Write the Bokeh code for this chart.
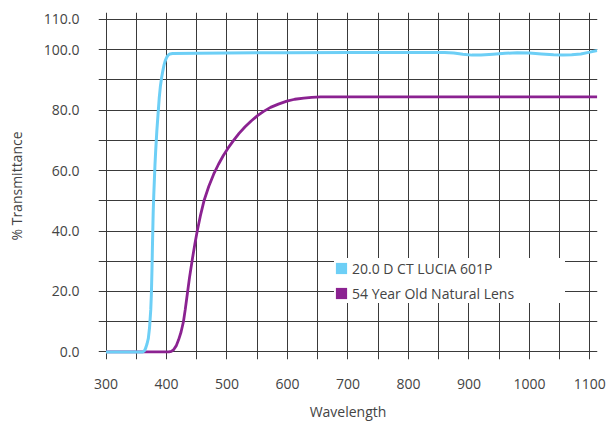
from bokeh.plotting import figure
from bokeh.models import Range1d, FixedTicker, PrintfTickFormatter, Legend, LegendItem
from bokeh.embed import file_html
from bokeh.resources import INLINE

# ---- data ----
x_ticks = [300, 400, 500, 600, 700, 800, 900, 1000, 1100]
x_grid = [300, 350, 400, 450, 500, 550, 600, 650, 700, 750, 800, 850, 900, 950, 1000, 1050, 1100]
y_ticks = [0, 20, 40, 60, 80, 100, 110]
y_grid = [0, 10, 20, 30, 40, 50, 60, 70, 80, 90, 100, 110]

lucia_name = "20.0 D CT LUCIA 601P"
lucia_wl = [300, 355, 361, 364, 366, 368, 370, 372, 374, 375, 376, 377, 378, 379, 380,
            381, 382, 384, 386, 388, 390, 392, 394, 396, 398, 400, 402, 404, 406, 410,
            450, 500, 600, 700, 800, 860, 875, 890, 905, 920, 940, 960, 980, 1000,
            1020, 1040, 1055, 1070, 1085, 1100, 1112]
lucia_t = [0, 0, 0, 0.5, 1.5, 2.8, 4.5, 8, 14, 19, 27, 37, 46, 52, 57,
           62, 66, 73, 78.5, 84, 88, 90.8, 93, 95, 96.4, 97.3, 98.0, 98.4, 98.6, 98.7,
           98.8, 98.9, 99.0, 99.1, 99.1, 99.1, 98.9, 98.5, 98.2, 98.2, 98.5, 98.8, 99.0, 98.9,
           98.6, 98.3, 98.2, 98.3, 98.6, 99.2, 99.7]

lens_name = "54 Year Old Natural Lens"
lens_wl = [300, 404, 408, 412, 416, 420, 424, 428, 431, 434, 438, 443, 447, 451, 456,
           462, 470, 478, 486, 494, 502, 511, 520, 530, 540, 550, 560, 572, 585, 599,
           612, 627, 640, 655, 1112]
lens_t = [0, 0, 0.2, 0.8, 2, 4, 6.5, 10, 14, 18.5, 24.5, 31, 35.8, 40.2, 45,
          50, 54.8, 58.8, 62.1, 65.0, 67.5, 70.0, 72.3, 74.5, 76.4, 78.1, 79.5, 80.9, 82.0, 83.0,
          83.6, 84.0, 84.25, 84.4, 84.4]

blue = "#6DCFF6"
purple = "#8B2291"
text_col = "#444444"
font = "Open Sans"
nan = float("nan")

p = figure(width=609, height=423, output_backend="svg", toolbar_location=None,
           x_range=Range1d(287.6, 1112.6), y_range=Range1d(-2.5, 112.3),
           min_border_left=98, min_border_right=12, min_border_top=12, min_border_bottom=63)
p.outline_line_color = None
p.background_fill_color = "white"
p.border_fill_color = "white"

p.xaxis.ticker = FixedTicker(ticks=x_ticks)
p.yaxis.ticker = FixedTicker(ticks=y_ticks)
p.xgrid.ticker = FixedTicker(ticks=x_grid)
p.ygrid.ticker = FixedTicker(ticks=y_grid)
p.yaxis.formatter = PrintfTickFormatter(format="%.1f")

for g in (p.xgrid, p.ygrid):
    g.grid_line_color = "#3a3a3a"
    g.grid_line_width = 1
    g.grid_line_alpha = 1

for ax in (p.xaxis, p.yaxis):
    ax.axis_line_color = None
    ax.major_tick_line_color = None
    ax.minor_tick_line_color = None
    ax.major_label_text_font = font
    ax.major_label_text_font_size = "14px"
    ax.major_label_text_color = text_col
    ax.axis_label_text_font = font
    ax.axis_label_text_font_size = "14px"
    ax.axis_label_text_font_style = "normal"
    ax.axis_label_text_color = text_col

p.xaxis.axis_label = "Wavelength"
p.yaxis.axis_label = "% Transmittance"
p.xaxis.major_label_standoff = 13
p.yaxis.major_label_standoff = 13
p.xaxis.axis_label_standoff = 10
p.yaxis.axis_label_standoff = 15

p.line(lens_wl, lens_t, line_color=purple, line_width=2.8)
p.line(lucia_wl, lucia_t, line_color=blue, line_width=3)

# legend swatches only (NaN rows are not drawn in the plot area)
q1 = p.quad(left=[nan], right=[nan], top=[nan], bottom=[nan], fill_color=blue, line_color=None)
q2 = p.quad(left=[nan], right=[nan], top=[nan], bottom=[nan], fill_color=purple, line_color=None)

legend = Legend(items=[LegendItem(label=lucia_name, renderers=[q1]),
                       LegendItem(label=lens_name, renderers=[q2])],
                location=(236, 56), padding=9, spacing=5, margin=0,
                glyph_width=14, glyph_height=14, label_standoff=4,
                label_width=213, label_height=20,
                border_line_color=None, background_fill_color="white",
                background_fill_alpha=1,
                label_text_font=font, label_text_font_size="14px",
                label_text_color=text_col)
p.add_layout(legend)

open("out.html", "w").write(file_html(p, INLINE))
